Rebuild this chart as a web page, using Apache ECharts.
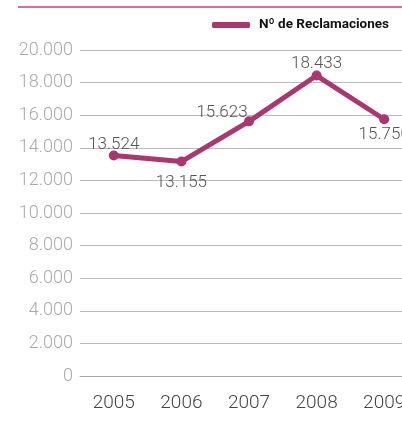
<!DOCTYPE html>
<html><head><meta charset="utf-8">
<script src="https://cdn.jsdelivr.net/npm/echarts@6/dist/echarts.min.js"></script>
<style>html,body{margin:0;padding:0;background:#fff;overflow:hidden;width:402px;height:421px}#c{width:418px;height:421px}</style>
</head><body><div id="c"></div>
<script>
const categories = ['2005','2006','2007','2008','2009'];
const seriesName = 'Nº de Reclamaciones';
const values = [13524, 13155, 15623, 18433, 15750];
const yTicks = [0, 2000, 4000, 6000, 8000, 10000, 12000, 14000, 16000, 18000, 20000];

function fmt(v){ return String(v).replace(/\B(?=(\d{3})+(?!\d))/g, '.'); }

const labelPos = [
  {position:'top', distance:-3},
  {position:'bottom', distance:8},
  {position:'top', distance:-5, offset:[-27,0]},
  {position:'top', distance:-2},
  {position:'bottom', distance:2}
];

const chart = echarts.init(document.getElementById('c'));
chart.setOption({
  animation:false,
  textStyle:{fontFamily:'Roboto'},
  graphic:[{type:'line', shape:{x1:18,y1:7,x2:418,y2:7}, style:{stroke:'#c4427e', lineWidth:1.5}}],
  legend:{
    right:24, top:13,
    data:[{name:seriesName, icon:'roundRect'}],
    itemWidth:38, itemHeight:6, itemGap:10,
    textStyle:{fontSize:13.5, fontWeight:'bold', color:'#111', fontFamily:'Roboto', padding:[0,0,0,4]}
  },
  grid:{left:80, right:0, top:50, bottom:45},
  xAxis:{
    type:'category', data:categories, boundaryGap:true,
    axisLine:{lineStyle:{color:'#aaa', width:1}},
    axisTick:{inside:true, length:10, lineStyle:{color:'#aaa'}},
    axisLabel:{fontSize:19, color:'#444', margin:18, fontWeight:300, fontFamily:'Roboto'}
  },
  yAxis:{
    type:'value', min:yTicks[0], max:yTicks[yTicks.length-1], interval:yTicks[1]-yTicks[0],
    axisLine:{show:false}, axisTick:{show:false},
    splitLine:{lineStyle:{color:'#bbb', width:1}},
    axisLabel:{fontSize:18, color:'#aaa', margin:7, fontWeight:300, fontFamily:'Roboto', formatter:v=>fmt(v)}
  },
  series:[{
    name:seriesName, type:'line',
    data: values.map((v,i)=>({value:v, label:Object.assign({show:true}, labelPos[i])})),
    lineStyle:{color:'#a8386e', width:5},
    itemStyle:{color:'#a8386e'},
    symbol:'circle', symbolSize:10,
    label:{show:true, fontSize:17, color:'#555', fontWeight:300, fontFamily:'Roboto', formatter:p=>fmt(p.value)},
    clip:false
  }]
});
</script></body></html>
